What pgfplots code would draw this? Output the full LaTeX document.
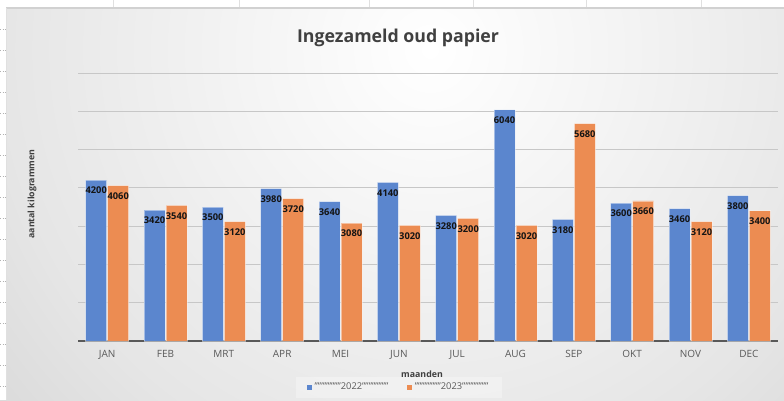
\documentclass[border=0pt]{standalone}
\usepackage{fontspec}
\setmainfont{Open Sans}
\usepackage{pgfplots}
\pgfplotsset{compat=1.18}
\definecolor{barblue}{HTML}{5B86CE}
\definecolor{barorange}{HTML}{EC8C52}
\definecolor{titlegray}{HTML}{404040}
\definecolor{tickgray}{HTML}{595959}
\pgfdeclareradialshading{bgshade}{\pgfpoint{0bp}{0bp}}{color(0bp)=(white); color(18bp)=(black!10); color(33bp)=(black!22); color(50bp)=(black!27)}
\begin{document}
\begin{tikzpicture}
\useasboundingbox (0,0) rectangle (588pt,300pt);
\begin{scope}
\clip (0,0) rectangle (588pt,300pt);
\shade[shading=bgshade] (322.5pt,262.5pt) circle (450pt);
\fill[white] (0,0) rectangle (4.5pt,300pt);
\fill[white] (0,294pt) rectangle (588pt,300pt);
\draw[black!18, line width=0.8pt] (4.5pt,294pt) -- (588pt,294pt);
\draw[black!12, line width=0.5pt] (4.5pt,0) -- (4.5pt,294pt);
\foreach \yy in {29,50,71,92,113,134,155,176,197,218,239,260,281,302,323,344,365,386}
  \draw[black!30, line width=0.4pt, dash pattern=on 0.8pt off 0.8pt] (0.3pt,{300pt-\yy*0.75pt}) -- (3.6pt,{300pt-\yy*0.75pt});
\foreach \xx in {113,239,369,473,586,701}
  \draw[black!12, line width=0.4pt] ({\xx*0.75pt},294.5pt) -- ({\xx*0.75pt},300pt);
\end{scope}
\begin{axis}[
  at={(58.5pt,44.25pt)}, anchor=south west,
  scale only axis, width=525pt, height=201pt,
  xmin=-0.5, xmax=11.5, ymin=0, ymax=7000,
  axis x line=bottom, axis y line=left,
  x axis line style={-, draw=tickgray, line width=1.5pt},
  y axis line style={draw=none},
  ytick={1000,2000,...,7000}, yticklabels={},
  ymajorgrids, grid style={black!22, line width=0.75pt},
  xtick={0,...,11},
  xticklabels={JAN,FEB,MRT,APR,MEI,JUN,JUL,AUG,SEP,OKT,NOV,DEC},
  major tick length=0pt,
  xticklabel style={font=\fontsize{7.5}{9}\selectfont, text=tickgray, inner sep=0pt, anchor=north, yshift=-6.5pt},
  ybar=0.75pt, bar width=15.75pt,
  /pgf/number format/1000 sep={},
  nodes near coords,
  nodes near coords style={font=\bfseries\fontsize{7}{8}\selectfont, text=black!92, anchor=north, inner sep=0pt, yshift=-5pt, /pgf/number format/assume math mode=true, /pgf/number format/fixed, /pgf/number format/1000 sep={}},
  legend style={at={(0.4586,-0.1735)}, anchor=center, draw=none, fill=white, fill opacity=0.3, text opacity=1, font=\fontsize{7}{8}\selectfont, text=tickgray, inner xsep=8pt, inner ysep=2.5pt, /tikz/every even column/.append style={column sep=12pt}},
  legend columns=2,
  legend image code/.code={\fill[#1, draw=none, fill opacity=1] (0pt,-1.9pt) rectangle (3.8pt,1.9pt);},
]
\addplot[fill=barblue, draw=white, draw opacity=0.45, line width=0.5pt] coordinates {(0,4200) (1,3420) (2,3500) (3,3980) (4,3640) (5,4140) (6,3280) (7,6040) (8,3180) (9,3600) (10,3460) (11,3800)};
\addlegendentry{""""""""2022""""""""}
\addplot[fill=barorange, draw=white, draw opacity=0.45, line width=0.5pt] coordinates {(0,4060) (1,3540) (2,3120) (3,3720) (4,3080) (5,3020) (6,3200) (7,3020) (8,5680) (9,3660) (10,3120) (11,3400)};
\addlegendentry{""""""""2023""""""""}
\end{axis}
\node[font=\bfseries\fontsize{13.3}{15}\selectfont, text=titlegray] at (298.5pt,271.5pt) {Ingezameld oud papier};
\node[font=\bfseries\fontsize{6.6}{8}\selectfont, text=titlegray] at (316.5pt,19.5pt) {maanden};
\node[font=\bfseries\fontsize{6.6}{8}\selectfont, text=titlegray, rotate=90] at (24pt,154.5pt) {aantal kilogrammen};
\end{tikzpicture}
\end{document}
